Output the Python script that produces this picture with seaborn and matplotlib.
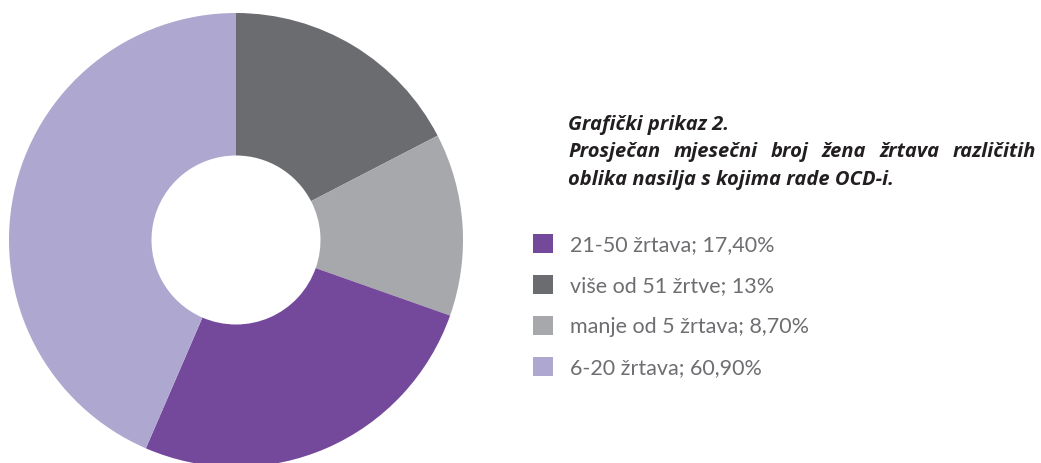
import matplotlib.pyplot as plt
import seaborn as sns
from matplotlib.patches import Patch

# slice values as drawn (clockwise from 12 o'clock)
slice_values = [17.4, 13.0, 26.1, 43.5]
slice_colors = ['#6b6c70', '#a7a8ab', '#74489b', '#aea8d1']

# legend, in the order it is printed
legend_labels = ['21-50 žrtava; 17,40%', 'više od 51 žrtve; 13%',
                 'manje od 5 žrtava; 8,70%', '6-20 žrtava; 60,90%']
legend_colors = ['#74489b', '#6b6c70', '#a7a8ab', '#aea8d1']

title_lines = ['Grafički prikaz 2.',
               'Prosječan mjesečni broj žena žrtava različitih',
               'oblika nasilja s kojima rade OCD-i.']

sns.set_theme(style='white')
plt.rcParams['font.family'] = ['Lato', 'DejaVu Sans']

W, H = 1041, 463
fig = plt.figure(figsize=(W / 100, H / 100), dpi=100)

# donut: centre (236, 240) px, outer radius 227 px
cx, cy, r = 236, 240, 227
ax = fig.add_axes([(cx - r) / W, (H - cy - r) / H, 2 * r / W, 2 * r / H])
ax.pie(slice_values, colors=slice_colors, startangle=90, counterclock=False,
       radius=1, wedgeprops=dict(width=1 - 84.5 / r, linewidth=0))
ax.set_xlim(-1, 1)
ax.set_ylim(-1, 1)
ax.set_aspect('equal')
ax.axis('off')

# title block (second line is justified)
tfont = dict(fontsize=14.5, fontweight='bold', fontstyle='italic',
             family=['Open Sans', 'DejaVu Sans'], color='#231f20',
             va='center', ha='left')
x0, x1 = 568 / W, 1036 / W
ys = [125, 152, 180]
fig.text(x0, 1 - ys[0] / H, title_lines[0], **tfont)
fig.text(x0, 1 - ys[2] / H, title_lines[2], **tfont)

renderer = fig.canvas.get_renderer()
words = title_lines[1].split()
texts = [fig.text(0, 1 - ys[1] / H, w, **tfont) for w in words]
widths = [t.get_window_extent(renderer).width / W for t in texts]
gap = (x1 - x0 - sum(widths)) / (len(words) - 1)
pos = x0
for t, w in zip(texts, widths):
    t.set_x(pos)
    pos += w + gap

handles = [Patch(facecolor=c, edgecolor='none') for c in legend_colors]
fig.legend(handles, legend_labels, loc='upper left',
           bbox_to_anchor=(533 / W, 1 - 234 / H), frameon=False,
           fontsize=15.5, labelcolor='#6d6e71', handlelength=0.95,
           handleheight=0.95, handletextpad=0.75, labelspacing=0.95,
           borderpad=0, borderaxespad=0)

fig.savefig('out.png', dpi=100)
